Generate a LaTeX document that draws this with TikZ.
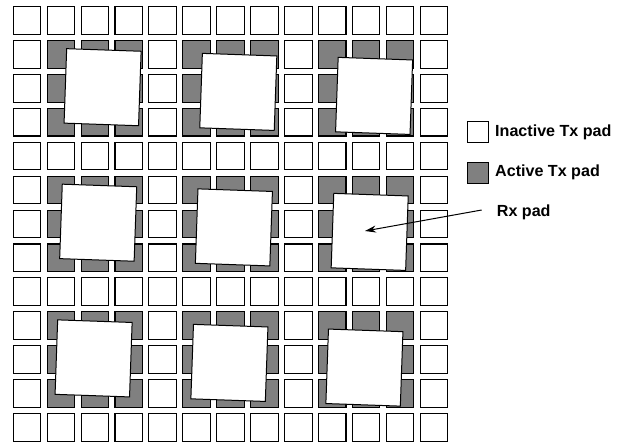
\documentclass[tikz,border=0pt]{standalone}
\usepackage{fontspec}
\setmainfont{Liberation Sans}
\usetikzlibrary{arrows.meta}
\begin{document}
\begin{tikzpicture}[x=1pt,y=-1pt,
  txpad/.style={draw=black,line width=1.1pt,fill=white},
  activepad/.style={txpad,fill=black!50},
  rxpad/.style={draw=black,line width=1pt,fill=white,rectangle,
    minimum size=74.5pt,inner sep=0pt,rotate=-2},
  legendbox/.style={draw=black,line width=0.9pt,rectangle,minimum size=21pt,inner sep=0pt},
  legendtext/.style={anchor=base west,inner sep=0pt,font=\fontsize{16.1}{19}\selectfont\bfseries},
  pointer/.style={line width=1pt,-{Stealth[length=11pt,width=7pt]}}]
\useasboundingbox (0,0) rectangle (627,444);

% 13 x 13 array of Tx pads; 3 x 3 blocks around each Rx pad are active
\foreach \i in {0,...,12}{
  \foreach \j in {0,...,12}{
    \pgfmathtruncatemacro{\ci}{mod(\i,4)}
    \pgfmathtruncatemacro{\cj}{mod(\j,4)}
    \pgfmathtruncatemacro{\act}{(\ci>0)&&(\cj>0)&&(\i<12)&&(\j<12)}
    \ifnum\act=1
      \draw[activepad] ({13.3+33.9*\i},{6.7+33.9*\j}) rectangle ++(27.6,27.6);
    \else
      \draw[txpad] ({13.3+33.9*\i},{6.7+33.9*\j}) rectangle ++(27.6,27.6);
    \fi
  }
}

% Rx pads
\node[rxpad] (padA) at (102.6,87.2) {};
\node[rxpad] (padB) at (238.3,91.9) {};
\node[rxpad] (padC) at (374.1,95.9) {};
\node[rxpad] (padD) at (98.2,222.7) {};
\node[rxpad] (padE) at (233.9,227.4) {};
\node[rxpad] (padF) at (369.7,231.9) {};
\node[rxpad] (padG) at (93.6,358.4) {};
\node[rxpad] (padH) at (229.4,362.9) {};
\node[rxpad] (padI) at (364.4,367.6) {};

% legend
\node[legendbox,fill=white] (keyinactive) at (477.8,132.2) {};
\node[legendtext] (txtinactive) at (495,136) {Inactive Tx pad};
\node[legendbox,fill=black!50] (keyactive) at (477.8,173.3) {};
\node[legendtext] (txtactive) at (495,176.2) {Active Tx pad};
\node[legendtext] (txtrx) at (496.7,216.7) {Rx pad};

\coordinate (rxtail) at (481.7,210);
\coordinate (rxtip) at (365,231);
\draw[pointer] (rxtail) -- (rxtip);
\end{tikzpicture}
\end{document}
